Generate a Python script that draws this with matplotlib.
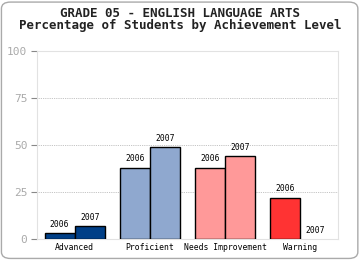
import matplotlib
matplotlib.use("Agg")
import matplotlib.pyplot as plt
import numpy as np
from matplotlib.patches import FancyBboxPatch

# data
levels = ["Advanced", "Proficient", "Needs Improvement", "Warning"]
years = ["2006", "2007"]
pct_2006 = [3, 38, 38, 22]
pct_2007 = [7, 49, 44, 0]
level_colors = ["#003f87", "#8fa8cf", "#ff9999", "#ff3333"]
yticks = [0, 25, 50, 75, 100]

MONO = "DejaVu Sans Mono"

fig = plt.figure(figsize=(3.6, 2.6), dpi=100)
fig.patch.set_facecolor("white")

# rounded frame round the whole picture (behind the axes)
frame = FancyBboxPatch((0.004, 0.006), 0.99, 0.986,
                       boxstyle="round,pad=0,rounding_size=0.025",
                       transform=fig.transFigure, fc="white", ec="#aaaaaa",
                       lw=1.0, zorder=-10)
fig.patches.append(frame)

ax = fig.add_axes([0.103, 0.081, 0.836, 0.723])
ax.set_facecolor("none")

x = np.arange(len(levels))
w = 0.4
for series, off, yr in ((pct_2006, -w / 2, years[0]), (pct_2007, w / 2, years[1])):
    # empty bars get no outline
    lws = [1.0 if v > 0 else 0.0 for v in series]
    bars = ax.bar(x + off, series, width=w, color=level_colors,
                  edgecolor="black", linewidth=lws, zorder=3)
    for b, v in zip(bars, series):
        ax.annotate(yr, (b.get_x() + b.get_width() / 2, v),
                    xytext=(0, 3), textcoords="offset points",
                    ha="center", va="bottom", fontsize=5.8,
                    family=MONO, color="black")

ax.set_xlim(-0.5, 3.5)
ax.set_ylim(0, 100)
ax.set_yticks(yticks)
ax.set_yticklabels([str(t) for t in yticks], family=MONO, fontsize=8, color="#aaaaaa")
ax.set_xticks(x)
ax.set_xticklabels(levels, family=MONO, fontsize=5.9, color="black")
ax.tick_params(axis="y", length=4, width=0.8, color="#888888", pad=3)
ax.tick_params(axis="x", length=0, pad=3)

for t in yticks[1:-1]:
    ax.axhline(t, color="#b0b0b0", lw=0.6, ls=(0, (1, 1.2)), zorder=1)
for s in ax.spines.values():
    s.set_color("#e2e2e2")
    s.set_linewidth(0.8)

fig.text(0.5, 0.925,
         "GRADE 05 - ENGLISH LANGUAGE ARTS\nPercentage of Students by Achievement Level",
         ha="center", va="center", linespacing=0.95,
         family=MONO, fontsize=9, fontweight="bold", color="#222222")

fig.savefig("out.png", dpi=100)
